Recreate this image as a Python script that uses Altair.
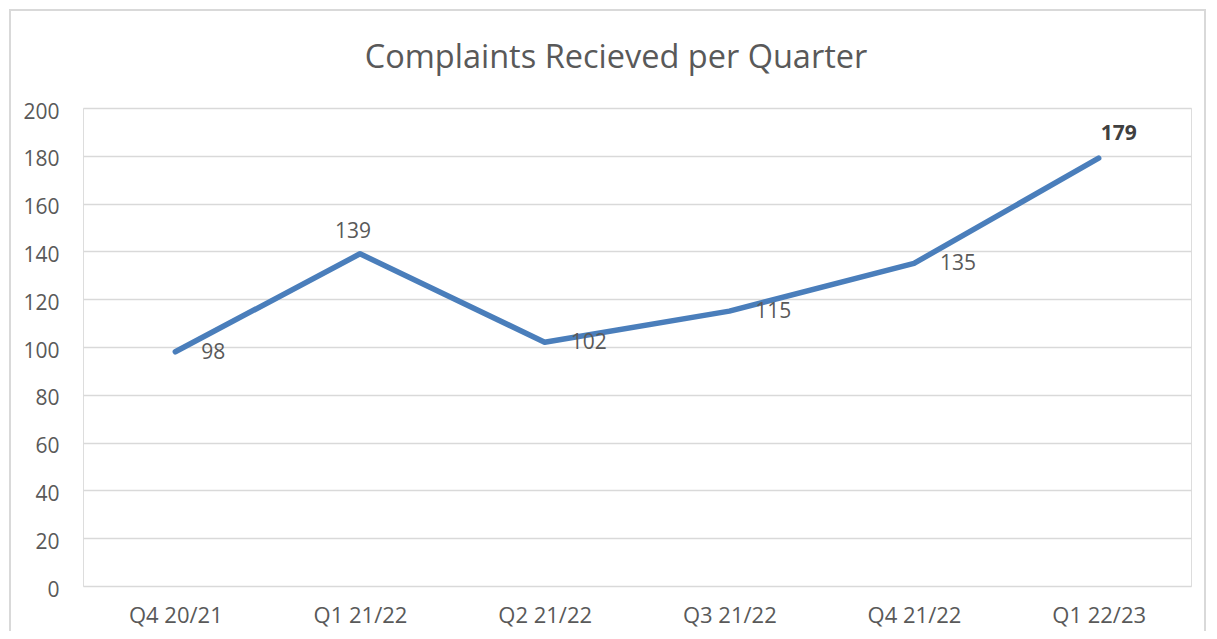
import altair as alt
import pandas as pd

quarters = ["Q4 20/21", "Q1 21/22", "Q2 21/22", "Q3 21/22", "Q4 21/22", "Q1 22/23"]
complaints = [98, 139, 102, 115, 135, 179]
chart_title = "Complaints Recieved per Quarter"

df = pd.DataFrame({"quarter": quarters, "complaints": complaints})

FONT = "Open Sans"
TXT = "#595959"
LINE = "#4a7ebb"

x = alt.X("quarter:N", sort=quarters, title=None,
          scale=alt.Scale(type="point", padding=0.5),
          axis=alt.Axis(labelAngle=0, domain=False, ticks=False, grid=False,
                        labelPadding=29, labelBaseline="middle",
                        labelFontSize=22, labelColor=TXT, labelFont=FONT))
y = alt.Y("complaints:Q", title=None,
          scale=alt.Scale(domain=[0, 200], nice=False),
          axis=alt.Axis(values=list(range(0, 201, 20)), domain=False, ticks=False,
                        gridColor="#d9d9d9", gridWidth=1.3,
                        labelPadding=24, labelOffset=4,
                        labelFontSize=21, labelColor=TXT, labelFont=FONT))

base = alt.Chart(df)

border = base.mark_rect(fillOpacity=0, stroke="#d9d9d9", strokeWidth=1.5).encode(
    x=alt.value(-73), x2=alt.value(1122), y=alt.value(-98), y2=alt.value(560)
)

title_mark = alt.Chart(pd.DataFrame({"t": [chart_title]})).mark_text(
    align="center", baseline="middle", fontSize=32.5, font=FONT, color=TXT
).encode(text="t:N", x=alt.value(533), y=alt.value(-50))

line = base.mark_line(color=LINE, strokeWidth=5.5, strokeCap="round", strokeJoin="round").encode(
    x=x, y=y
)

right_set = ["Q4 20/21", "Q2 21/22", "Q3 21/22", "Q4 21/22"]

lbl_right = base.transform_filter(
    alt.FieldOneOfPredicate(field="quarter", oneOf=right_set)
).mark_text(align="left", baseline="middle", dx=26, dy=1,
            fontSize=21, font=FONT, color=TXT).encode(
    x=alt.X("quarter:N", sort=quarters), y="complaints:Q", text="complaints:Q")

lbl_139 = base.transform_filter(
    alt.FieldEqualPredicate(field="quarter", equal="Q1 21/22")
).mark_text(align="center", baseline="middle", dx=-7, dy=-22,
            fontSize=21, font=FONT, color=TXT).encode(
    x=alt.X("quarter:N", sort=quarters), y="complaints:Q", text="complaints:Q")

lbl_179 = base.transform_filter(
    alt.FieldEqualPredicate(field="quarter", equal="Q1 22/23")
).mark_text(align="center", baseline="middle", dx=20, dy=-24,
            fontSize=21, font=FONT, color="#404040", fontWeight="bold").encode(
    x=alt.X("quarter:N", sort=quarters), y="complaints:Q", text="complaints:Q")

chart = alt.layer(border, title_mark, line, lbl_right, lbl_139, lbl_179).properties(
    width=1108, height=478,
    autosize=alt.AutoSizeParams(type="none"),
    padding={"left": 75, "top": 100, "right": 18, "bottom": 45},
).configure_view(stroke=None).configure(background="white")

chart.save("out.html", embed_options={"renderer": "svg", "actions": False})
